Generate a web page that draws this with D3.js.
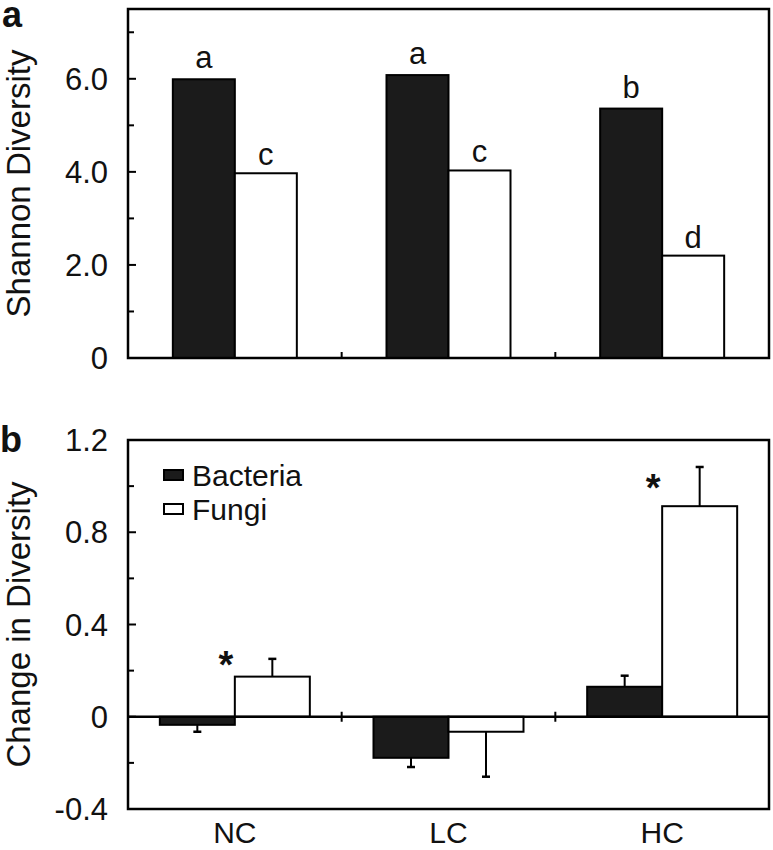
<!DOCTYPE html>
<html>
<head>
<meta charset="utf-8">
<script src="https://cdn.jsdelivr.net/npm/d3@7"></script>
<style>
body { margin: 0; background: #fff; }
text { font-family: "Liberation Sans", Arial, Helvetica, sans-serif; fill: #111; }
</style>
</head>
<body>
<div id="chart"></div>
<script>
// data
const categories = ["NC", "LC", "HC"];
const seriesNames = ["Bacteria", "Fungi"];

// panel a: Shannon diversity
const shannonBacteria = [5.99, 6.08, 5.36];
const shannonFungi = [3.97, 4.03, 2.20];
const lettersBacteria = ["a", "a", "b"];
const lettersFungi = ["c", "c", "d"];
const shannonTicks = [0, 2, 4, 6];
const shannonTickLabels = ["0", "2.0", "4.0", "6.0"];
const shannonMinor = [1, 3, 5, 7];

// panel b: change in diversity
const changeBacteria = [-0.035, -0.178, 0.13];
const changeBacteriaErr = [0.03, 0.04, 0.048];
const changeFungi = [0.174, -0.065, 0.913];
const changeFungiErr = [0.077, 0.195, 0.17];
const starMarks = ["*", "", "*"];
const starLevel = [0.27, null, 1.04];
const changeTicks = [-0.4, 0, 0.4, 0.8, 1.2];
const changeTickLabels = ["-0.4", "0", "0.4", "0.8", "1.2"];
const changeMinor = [-0.2, 0.2, 0.6, 1.0];

const W = 773, H = 850;
const dark = "#1b1b1b";
const left = 128, right = 769;

const svg = d3.select("#chart").append("svg")
    .attr("width", W)
    .attr("height", H);

const x = d3.scaleBand().domain(categories).range([left, right]);

function yTicks(g, y, major, labels, minor) {
    g.selectAll(".maj").data(major).enter().append("line")
        .attr("x1", left).attr("x2", left + 8)
        .attr("y1", d => y(d)).attr("y2", d => y(d))
        .attr("stroke", "#000").attr("stroke-width", 2);
    g.selectAll(".mnr").data(minor).enter().append("line")
        .attr("x1", left).attr("x2", left + 6)
        .attr("y1", d => y(d)).attr("y2", d => y(d))
        .attr("stroke", "#000").attr("stroke-width", 2);
    g.selectAll(".lab").data(major).enter().append("text")
        .attr("x", 108)
        .attr("y", d => y(d))
        .attr("dy", "0.36em")
        .attr("text-anchor", "end")
        .attr("font-size", "31px")
        .text((d, i) => labels[i]);
}

// ---------- panel a ----------
const ya = d3.scaleLinear().domain([0, 7.5]).range([358, 9]);
const ga = svg.append("g");
const barA = 62;

ga.selectAll(".bact").data(categories).enter().append("rect")
    .attr("x", d => x(d) + x.bandwidth() / 2 - barA)
    .attr("y", (d, i) => ya(shannonBacteria[i]))
    .attr("width", barA)
    .attr("height", (d, i) => ya(0) - ya(shannonBacteria[i]))
    .attr("fill", dark).attr("stroke", "#000").attr("stroke-width", 2);

ga.selectAll(".fung").data(categories).enter().append("rect")
    .attr("x", d => x(d) + x.bandwidth() / 2)
    .attr("y", (d, i) => ya(shannonFungi[i]))
    .attr("width", barA)
    .attr("height", (d, i) => ya(0) - ya(shannonFungi[i]))
    .attr("fill", "#fff").attr("stroke", "#000").attr("stroke-width", 2);

ga.selectAll(".lb").data(categories).enter().append("text")
    .attr("x", d => x(d) + x.bandwidth() / 2 - barA / 2)
    .attr("y", (d, i) => ya(shannonBacteria[i]) - 11)
    .attr("text-anchor", "middle").attr("font-size", "31px")
    .text((d, i) => lettersBacteria[i]);
ga.selectAll(".lf").data(categories).enter().append("text")
    .attr("x", d => x(d) + x.bandwidth() / 2 + barA / 2)
    .attr("y", (d, i) => ya(shannonFungi[i]) - 8)
    .attr("text-anchor", "middle").attr("font-size", "31px")
    .text((d, i) => lettersFungi[i]);

ga.append("rect")
    .attr("x", left).attr("y", ya(7.5))
    .attr("width", right - left).attr("height", ya(0) - ya(7.5))
    .attr("fill", "none").attr("stroke", "#000").attr("stroke-width", 2.5);

ga.selectAll(".xt").data(categories.slice(1)).enter().append("line")
    .attr("x1", d => x(d)).attr("x2", d => x(d))
    .attr("y1", ya(0)).attr("y2", ya(0) - 6)
    .attr("stroke", "#000").attr("stroke-width", 2);

yTicks(ga, ya, shannonTicks, shannonTickLabels, shannonMinor);

ga.append("text")
    .attr("transform", `translate(18,${(ya(0) + ya(7.5)) / 2}) rotate(-90)`)
    .attr("dy", "0.36em")
    .attr("text-anchor", "middle").attr("font-size", "33px")
    .text("Shannon Diversity");

svg.append("text")
    .attr("x", 2).attr("y", 27)
    .attr("font-size", "36px").attr("font-weight", "bold")
    .text("a");

// ---------- panel b ----------
const yb = d3.scaleLinear().domain([-0.4, 1.2]).range([809, 440]);
const gb = svg.append("g");
const barB = 75;

function errBars(vals, errs, offset) {
    gb.selectAll(null).data(categories).enter().append("line")
        .attr("x1", d => x(d) + x.bandwidth() / 2 + offset)
        .attr("x2", d => x(d) + x.bandwidth() / 2 + offset)
        .attr("y1", (d, i) => yb(vals[i]))
        .attr("y2", (d, i) => yb(vals[i] + Math.sign(vals[i]) * errs[i]))
        .attr("stroke", "#000").attr("stroke-width", 2);
    gb.selectAll(null).data(categories).enter().append("line")
        .attr("x1", d => x(d) + x.bandwidth() / 2 + offset - 4)
        .attr("x2", d => x(d) + x.bandwidth() / 2 + offset + 4)
        .attr("y1", (d, i) => yb(vals[i] + Math.sign(vals[i]) * errs[i]))
        .attr("y2", (d, i) => yb(vals[i] + Math.sign(vals[i]) * errs[i]))
        .attr("stroke", "#000").attr("stroke-width", 2.5);
}

errBars(changeBacteria, changeBacteriaErr, -barB / 2);
errBars(changeFungi, changeFungiErr, barB / 2);

gb.selectAll(".bact").data(categories).enter().append("rect")
    .attr("x", d => x(d) + x.bandwidth() / 2 - barB)
    .attr("y", (d, i) => yb(Math.max(0, changeBacteria[i])))
    .attr("width", barB)
    .attr("height", (d, i) => Math.abs(yb(changeBacteria[i]) - yb(0)))
    .attr("fill", dark).attr("stroke", "#000").attr("stroke-width", 2);

gb.selectAll(".fung").data(categories).enter().append("rect")
    .attr("x", d => x(d) + x.bandwidth() / 2)
    .attr("y", (d, i) => yb(Math.max(0, changeFungi[i])))
    .attr("width", barB)
    .attr("height", (d, i) => Math.abs(yb(changeFungi[i]) - yb(0)))
    .attr("fill", "#fff").attr("stroke", "#000").attr("stroke-width", 2);

gb.selectAll(".star").data(categories.filter((d, i) => starMarks[i])).enter().append("text")
    .attr("x", d => x(d) + x.bandwidth() / 2 - 9)
    .attr("y", d => yb(starLevel[categories.indexOf(d)]) + 24)
    .attr("text-anchor", "middle")
    .attr("font-size", "38px").attr("font-weight", "bold")
    .text(d => starMarks[categories.indexOf(d)]);

gb.append("line")
    .attr("x1", left).attr("x2", right)
    .attr("y1", yb(0)).attr("y2", yb(0))
    .attr("stroke", "#000").attr("stroke-width", 2.5);

gb.selectAll(".xt").data(categories.slice(1)).enter().append("line")
    .attr("x1", d => x(d)).attr("x2", d => x(d))
    .attr("y1", yb(0) - 5).attr("y2", yb(0) + 5)
    .attr("stroke", "#000").attr("stroke-width", 2);

gb.append("rect")
    .attr("x", left).attr("y", yb(1.2))
    .attr("width", right - left).attr("height", yb(-0.4) - yb(1.2))
    .attr("fill", "none").attr("stroke", "#000").attr("stroke-width", 2.5);

yTicks(gb, yb, changeTicks, changeTickLabels, changeMinor);

gb.selectAll(".xl").data(categories).enter().append("text")
    .attr("x", d => x(d) + x.bandwidth() / 2)
    .attr("y", 843)
    .attr("text-anchor", "middle").attr("font-size", "30px")
    .text(d => d);

gb.append("text")
    .attr("transform", `translate(18,${(yb(-0.4) + yb(1.2)) / 2}) rotate(-90)`)
    .attr("dy", "0.36em")
    .attr("text-anchor", "middle").attr("font-size", "33px")
    .text("Change in Diversity");

// legend
const legend = gb.selectAll(".leg").data(seriesNames).enter().append("g")
    .attr("transform", (d, i) => `translate(164,${470 + i * 34})`);
legend.append("rect")
    .attr("width", 19).attr("height", 10)
    .attr("fill", (d, i) => i === 0 ? dark : "#fff")
    .attr("stroke", "#000").attr("stroke-width", 2);
legend.append("text")
    .attr("x", 28).attr("y", 5)
    .attr("dy", "0.36em")
    .attr("font-size", "30px")
    .text(d => d);

svg.append("text")
    .attr("x", 0).attr("y", 452)
    .attr("font-size", "36px").attr("font-weight", "bold")
    .text("b");
</script>
</body>
</html>
